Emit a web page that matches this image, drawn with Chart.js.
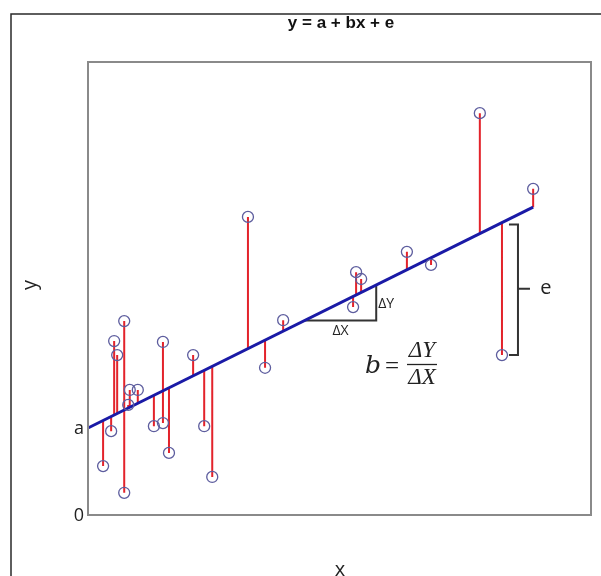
<!DOCTYPE html>
<html>
<head>
<meta charset="utf-8">
<script src="https://cdn.jsdelivr.net/npm/chart.js@4.4.1/dist/chart.umd.min.js"></script>
<style>
  html, body { margin: 0; padding: 0; background: #ffffff; }
  #wrap { width: 601px; height: 576px; }
</style>
</head>
<body>
<div id="wrap"><canvas id="c" width="601" height="576"></canvas></div>
<script>
// ---- data ----
const pointX = [0.30, 0.46, 0.52, 0.58, 0.72, 0.72, 0.80, 0.83, 0.99, 1.31, 1.49, 1.49, 1.61, 2.09, 2.31, 2.47, 3.18, 3.52, 3.88, 5.27, 5.33, 5.43, 6.34, 6.82, 7.79, 8.23, 8.85];
const pointY = [1.08, 1.85, 3.84, 3.53, 4.28, 0.49, 2.43, 2.76, 2.76, 1.96, 3.82, 2.03, 1.37, 3.53, 1.96, 0.84, 6.58, 3.25, 4.30, 4.59, 5.36, 5.21, 5.81, 5.52, 8.87, 3.53, 7.20];
const interceptA = 1.92;
const slopeB = 0.551;
const lineXRange = [0, 8.85];
const triangleX = [4.31, 5.73];
const residualIndexE = 25;   // point whose residual is marked "e"
const axisTickValues = [0, interceptA];
const axisTickLabels = ['0', 'a'];

// ---- derived datasets ----
const fit = x => interceptA + slopeB * x;
const pts = pointX.map((x, i) => ({ x: x, y: pointY[i] }));
const residuals = [];
pointX.forEach((x, i) => {
  residuals.push({ x: x, y: pointY[i] });
  residuals.push({ x: x, y: fit(x) });
  residuals.push({ x: x, y: null });
});
const fitLine = lineXRange.map(x => ({ x: x, y: fit(x) }));
const triY = fit(triangleX[0]);
const triangle = [
  { x: triangleX[0], y: triY },
  { x: triangleX[1], y: triY },
  { x: triangleX[1], y: fit(triangleX[1]) }
];

const decorPlugin = {
  id: 'decor',
  beforeDraw(chart) {
    const ctx = chart.ctx;
    ctx.save();
    ctx.fillStyle = '#ffffff';
    ctx.fillRect(0, 0, chart.width, chart.height);
    // outer frame
    ctx.strokeStyle = '#2a2a2a';
    ctx.lineWidth = 1.5;
    ctx.beginPath();
    ctx.moveTo(11, 576);
    ctx.lineTo(11, 14);
    ctx.lineTo(601, 14);
    ctx.stroke();
    ctx.restore();
  },
  afterDatasetsDraw(chart) {
    const ctx = chart.ctx;
    const a = chart.chartArea;
    const xs = chart.scales.x, ys = chart.scales.y;
    ctx.save();
    // plot box
    ctx.strokeStyle = '#8a8a8a';
    ctx.lineWidth = 2;
    ctx.strokeRect(a.left, a.top, a.right - a.left, a.bottom - a.top);

    // title
    ctx.fillStyle = '#111';
    ctx.textAlign = 'center';
    ctx.textBaseline = 'middle';
    ctx.font = 'bold 17px "Liberation Sans", Arial, sans-serif';
    ctx.fillText('y = a + bx + e', 341, 23);

    // axis tick labels "0" and "a"
    ctx.font = '18px "Open Sans", "DejaVu Sans", sans-serif';
    ctx.fillStyle = '#222';
    axisTickValues.forEach((v, i) => {
      ctx.fillText(axisTickLabels[i], 79, ys.getPixelForValue(v) + 1);
    });

    // axis titles
    ctx.font = '20px "Open Sans", "DejaVu Sans", sans-serif';
    ctx.fillText('x', 340, 570);
    ctx.save();
    ctx.translate(30, 285);
    ctx.rotate(-Math.PI / 2);
    ctx.fillText('y', 0, 0);
    ctx.restore();

    // triangle labels
    ctx.font = '14px "Open Sans", "DejaVu Sans", sans-serif';
    const tx1 = xs.getPixelForValue(triangleX[1]);
    const tyB = ys.getPixelForValue(triY);
    const tyT = ys.getPixelForValue(fit(triangleX[1]));
    ctx.textAlign = 'left';
    ctx.fillText('ΔY', tx1 + 2, (tyB + tyT) / 2 + 1);
    ctx.textAlign = 'center';
    ctx.fillText('ΔX', (xs.getPixelForValue(triangleX[0]) + tx1) / 2, tyB + 11);

    // formula b = ΔY / ΔX
    ctx.font = 'italic 25px "DejaVu Serif", "Liberation Serif", serif';
    ctx.textAlign = 'center';
    ctx.fillText('b', 373, 366);
    ctx.font = '25px "Liberation Serif", "DejaVu Serif", serif';
    ctx.fillText('=', 392, 367);
    ctx.font = 'italic 23px "Liberation Serif", "DejaVu Serif", serif';
    ctx.fillText('ΔY', 422, 351);
    ctx.fillText('ΔX', 422, 378);
    ctx.strokeStyle = '#222';
    ctx.lineWidth = 1.3;
    ctx.beginPath();
    ctx.moveTo(407, 364.5);
    ctx.lineTo(437, 364.5);
    ctx.stroke();

    // bracket for e
    const ex = xs.getPixelForValue(pointX[residualIndexE]);
    const eTop = ys.getPixelForValue(fit(pointX[residualIndexE]));
    const eBot = ys.getPixelForValue(pointY[residualIndexE]);
    const bx0 = ex + 7, bx1 = ex + 16;
    ctx.strokeStyle = '#333';
    ctx.lineWidth = 2;
    ctx.beginPath();
    ctx.moveTo(bx0, eTop + 2);
    ctx.lineTo(bx1, eTop + 2);
    ctx.lineTo(bx1, eBot);
    ctx.lineTo(bx0, eBot);
    const mid = (eTop + eBot) / 2;
    ctx.moveTo(bx1, mid);
    ctx.lineTo(bx1 + 12, mid);
    ctx.stroke();
    ctx.font = '20px "Open Sans", "DejaVu Sans", sans-serif';
    ctx.fillStyle = '#222';
    ctx.textAlign = 'center';
    ctx.fillText('e', bx1 + 28, mid - 1);
    ctx.restore();
  }
};

new Chart(document.getElementById('c'), {
  type: 'scatter',
  data: {
    datasets: [
      {
        type: 'line', data: residuals, borderColor: '#e3232b', borderWidth: 2,
        pointRadius: 0, spanGaps: false, order: 3, clip: false
      },
      {
        type: 'line', data: triangle, borderColor: '#333333', borderWidth: 2,
        pointRadius: 0, order: 2
      },
      {
        type: 'line', data: fitLine, borderColor: '#1a1aa6', borderWidth: 3,
        pointRadius: 0, order: 1, clip: false
      },
      {
        type: 'scatter', data: pts, pointRadius: 5.5, pointBorderWidth: 1.3,
        pointBorderColor: '#5d5d9e', pointBackgroundColor: 'rgba(255,255,255,0)',
        order: 0
      }
    ]
  },
  options: {
    responsive: false,
    animation: false,
    layout: { padding: { left: 88, top: 62, right: 10, bottom: 61 } },
    plugins: { legend: { display: false }, tooltip: { enabled: false } },
    scales: {
      x: { type: 'linear', min: 0, max: 10, display: false },
      y: { type: 'linear', min: 0, max: 10, display: false }
    }
  },
  plugins: [decorPlugin]
});
</script>
</body>
</html>
